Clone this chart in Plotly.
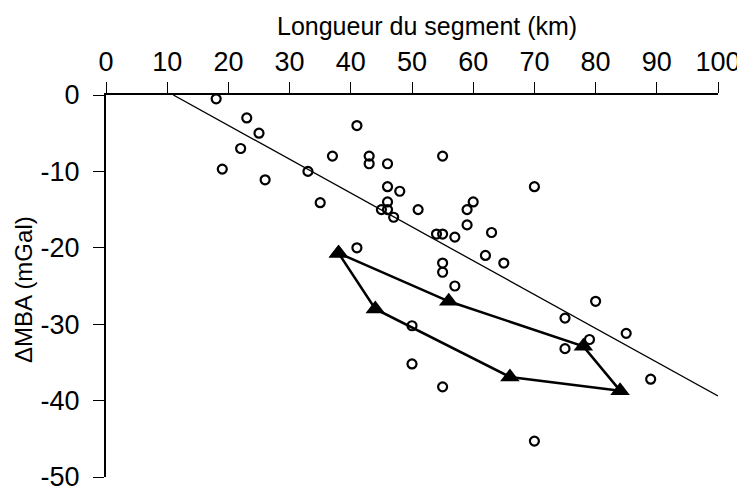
import plotly.graph_objects as go

# Segment data (open circles)
seg_length = [18, 23, 25, 22, 19, 26, 33, 35, 37, 41, 43, 43, 46, 46, 48, 46, 45, 46, 47, 51,
              41, 55, 60, 59, 59, 54, 55, 57, 63, 62, 65, 55, 55, 57, 70, 80, 75, 85, 79, 75,
              50, 50, 55, 89, 70]
delta_mba = [-0.5, -3, -5, -7, -9.7, -11.1, -10, -14.1, -8, -4, -8, -9, -9, -12, -12.6, -14, -15, -15, -16, -15,
             -20, -8, -14, -15, -17, -18.2, -18.2, -18.6, -18, -21, -22, -22, -23.2, -25, -12, -27, -29.2, -31.2, -32, -33.2,
             -30.2, -35.2, -38.2, -37.2, -45.3]

# Closed polygon of triangles
tri_x = [38, 56, 78, 84, 66, 44, 38]
tri_y = [-20.7, -27, -32.9, -38.7, -36.9, -28, -20.7]

# Regression line
trend_x = [11, 100]
trend_y = [0, -39.4]

x_ticks = [0, 10, 20, 30, 40, 50, 60, 70, 80, 90, 100]
y_ticks = [0, -10, -20, -30, -40, -50]

FONT = "Liberation Sans, Arial, sans-serif"

fig = go.Figure()
fig.add_trace(go.Scatter(x=trend_x, y=trend_y, mode="lines",
                         line=dict(color="black", width=1.3), hoverinfo="skip"))
fig.add_trace(go.Scatter(x=seg_length, y=delta_mba, mode="markers",
                         marker=dict(symbol="circle-open", size=9, color="black",
                                     line=dict(width=2.2, color="black"))))
fig.add_trace(go.Scatter(x=tri_x, y=tri_y, mode="lines+markers",
                         line=dict(color="black", width=2.5),
                         marker=dict(symbol="triangle-up", size=17, color="black")))

fig.update_layout(
    width=737, height=500,
    margin=dict(l=98, r=27, t=87, b=31, autoexpand=False),
    paper_bgcolor="white", plot_bgcolor="white",
    showlegend=False,
    font=dict(family=FONT, color="black"),
    xaxis=dict(side="top", range=[0, 100], tickvals=x_ticks, ticktext=[str(v) for v in x_ticks],
               ticks="outside", ticklen=11, tickwidth=1, tickcolor="black", automargin=False,
               showline=True, linecolor="black", linewidth=2, showgrid=False, zeroline=False,
               tickfont=dict(size=27, family=FONT), ticklabelstandoff=0),
    yaxis=dict(range=[-50, 0], tickvals=y_ticks, ticktext=[str(v) for v in y_ticks],
               ticks="outside", ticklen=11, tickwidth=1, tickcolor="black", automargin=False,
               showline=True, linecolor="black", linewidth=2, showgrid=False, zeroline=False,
               tickfont=dict(size=27, family=FONT), ticklabelstandoff=8),
    annotations=[
        dict(text="Longueur du segment (km)", xref="paper", yref="paper",
             x=(427 - 106) / 612, y=(477 - 26) / 382, showarrow=False,
             xanchor="center", yanchor="middle", font=dict(size=25, family=FONT)),
        dict(text="ΔMBA (mGal)", xref="paper", yref="paper",
             x=(23 - 106) / 612, y=(477 - 290) / 382, showarrow=False, textangle=-90,
             xanchor="center", yanchor="middle", font=dict(size=24, family=FONT)),
    ],
)

fig.write_html("out.html")
